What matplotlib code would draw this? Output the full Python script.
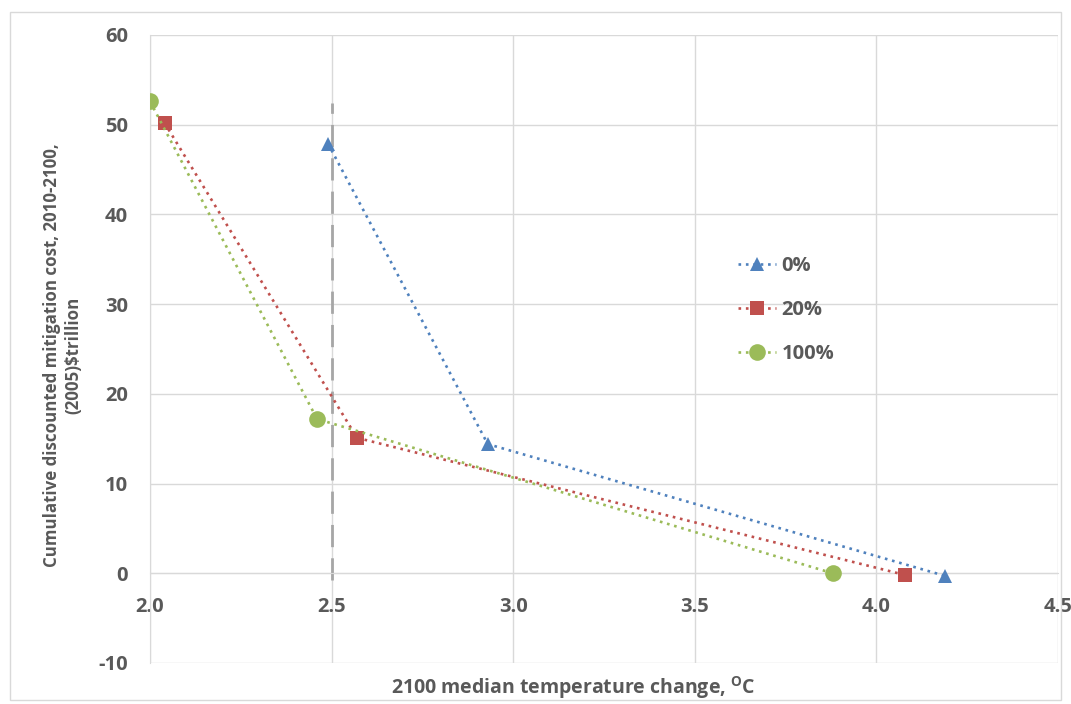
import matplotlib
matplotlib.use("Agg")
import matplotlib.pyplot as plt
from matplotlib.patches import Rectangle

plt.rcParams['font.family'] = ['Open Sans', 'DejaVu Sans']
plt.rcParams['font.weight'] = 'bold'

labels = ["0%", "20%", "100%"]
x_0 = [2.49, 2.93, 4.19]
y_0 = [47.9, 14.4, -0.3]
x_20 = [2.04, 2.57, 4.08]
y_20 = [50.2, 15.1, -0.2]
x_100 = [2.00, 2.46, 3.88]
y_100 = [52.6, 17.2, 0.0]
xticks = [2.0, 2.5, 3.0, 3.5, 4.0, 4.5]
yticks = [-10, 0, 10, 20, 30, 40, 50, 60]
ref_x = 2.5
ref_y = [-0.8, 52.4]

colors = ["#4F81BD", "#C0504D", "#9BBB59"]
markers = ["^", "s", "o"]
msizes = [10.5, 9.5, 12]
txtc = "#595959"

fig = plt.figure(figsize=(10.71, 7.04), dpi=100)
fig.patches.append(Rectangle((0.009, 0.005), 0.982, 0.978, transform=fig.transFigure,
                             fill=False, edgecolor="#D9D9D9", linewidth=1.0))
ax = fig.add_axes([150/1071, 1-663/704, (1058-150)/1071, (663-35)/704])

ax.set_xlim(2.0, 4.5)
ax.set_ylim(-10, 60)
ax.set_xticks(xticks)
ax.set_yticks(yticks)
ax.set_xticklabels([f"{v:.1f}" for v in xticks])
ax.set_yticklabels([str(v) for v in yticks])
ax.grid(True, color="#D9D9D9", linewidth=1.0)
ax.set_axisbelow(True)

for s in ["top", "right"]:
    ax.spines[s].set_visible(False)
ax.spines["left"].set_color("#D9D9D9")
ax.spines["bottom"].set_position(("data", 0))
ax.spines["bottom"].set_color("#D9D9D9")
ax.tick_params(length=0, labelsize=14.5, labelcolor=txtc)
ax.tick_params(axis="x", pad=17)
ax.tick_params(axis="y", pad=16)
for lab in ax.get_xticklabels() + ax.get_yticklabels():
    lab.set_fontweight("bold")

ax.plot([ref_x, ref_x], ref_y, color="#A6A6A6", linewidth=2, dashes=(8, 4), zorder=2)

for xs, ys, c, m, ms, lab in zip([x_0, x_20, x_100], [y_0, y_20, y_100], colors, markers, msizes, labels):
    ax.plot(xs, ys, linestyle=(0, (1, 1.8)), linewidth=1.9, color=c, marker=m,
            markersize=ms, markeredgewidth=0, label=lab, zorder=3)

leg = ax.legend(loc="center left", bbox_to_anchor=(0.639, 0.562), frameon=False,
                borderaxespad=0, fontsize=14.5, labelspacing=1.2, handlelength=1.85,
                handletextpad=0.3)
for t in leg.get_texts():
    t.set_color(txtc)
    t.set_fontweight("bold")

ax.set_xlabel("2100 median temperature change, $\\mathregular{^{O}}$C", fontsize=14,
              color=txtc, fontweight="bold")
ax.set_ylabel("Cumulative discounted mitigation cost, 2010-2100,\n(2005)$trillion",
              fontsize=12.2, color=txtc, fontweight="bold", linespacing=1.25)
ax.xaxis.set_label_coords(0.466, -0.018)
ax.yaxis.set_label_coords(-0.074, 0.49)

fig.savefig("out.png", dpi=100)
